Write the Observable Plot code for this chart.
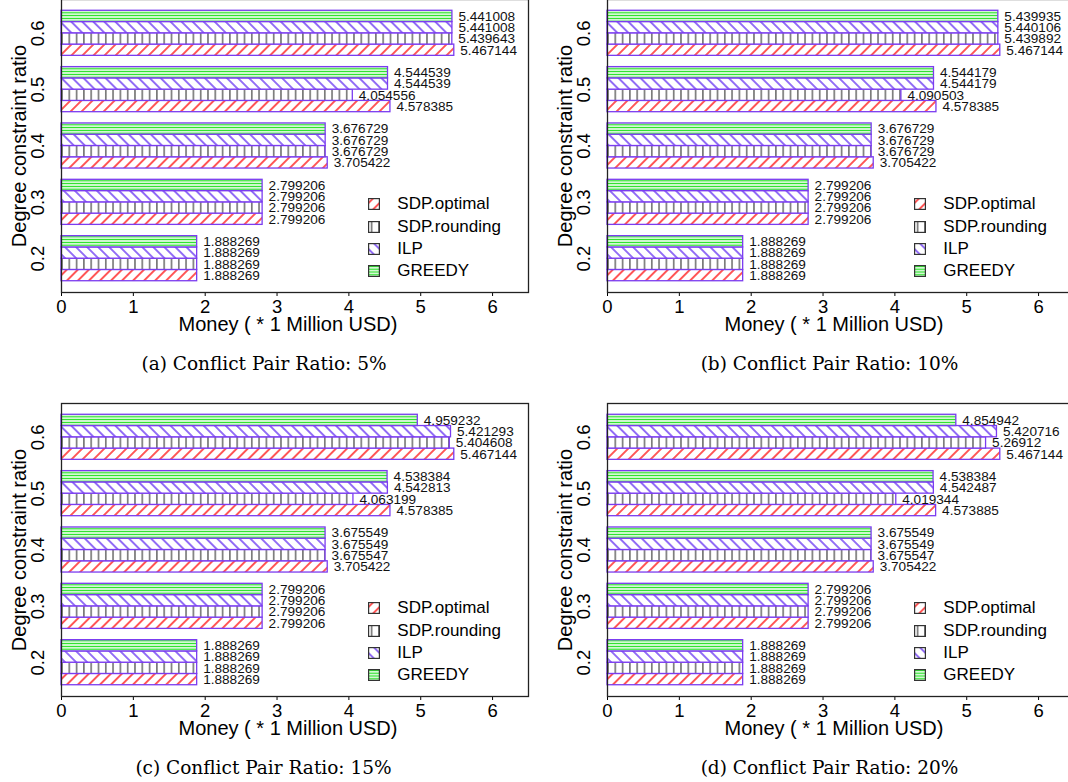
<!DOCTYPE html>
<html>
<head>
<meta charset="utf-8">
<script src="https://cdn.jsdelivr.net/npm/d3@7"></script>
<script src="https://cdn.jsdelivr.net/npm/@observablehq/plot@0.6"></script>
<style>
  html, body { margin: 0; padding: 0; }
  body { width: 1068px; height: 782px; overflow: hidden; background: #fff; position: relative;
         font-family: "Liberation Sans", Arial, sans-serif; }
  .panel { position: absolute; width: 534px; }
  .panel svg { max-width: none !important; display: block; }
  .panel svg, .panel svg g, .panel svg text { font-family: "Liberation Sans", Arial, sans-serif !important; }
  .legend { position: absolute; font-size: 17px; color: #000; }
  .legend .row { height: 22.3px; display: flex; align-items: center; white-space: nowrap; }
  .legend .row svg { flex: none; }
  .legend .row span { margin-left: 17.3px; }
  .caption { position: absolute; font-family: "DejaVu Serif", serif; font-size: 18.5px; color: #000;
             transform: translate(-50%, -50%); white-space: nowrap; }
</style>
</head>
<body>
<svg width="0" height="0" style="position:absolute">
  <defs>
    <pattern id="p-opt" patternUnits="userSpaceOnUse" width="7.8" height="7.8" patternTransform="rotate(45)">
      <rect width="7.8" height="7.8" fill="#fff"/>
      <line x1="3.9" y1="0" x2="3.9" y2="7.8" stroke="#ff0000" stroke-width="1.3"/>
    </pattern>
    <pattern id="p-rnd" patternUnits="userSpaceOnUse" width="7.3" height="10">
      <rect width="7.3" height="10" fill="#fff"/>
      <line x1="3.6" y1="0" x2="3.6" y2="10" stroke="#444" stroke-width="1.2"/>
    </pattern>
    <pattern id="p-ilp" patternUnits="userSpaceOnUse" width="7.8" height="7.8" patternTransform="rotate(-45)">
      <rect width="7.8" height="7.8" fill="#fff"/>
      <line x1="3.9" y1="0" x2="3.9" y2="7.8" stroke="#5a22f0" stroke-width="1.3"/>
    </pattern>
    <pattern id="p-grd" patternUnits="userSpaceOnUse" width="10" height="2.8">
      <rect width="10" height="2.8" fill="#fff"/>
      <line x1="0" y1="1.4" x2="10" y2="1.4" stroke="#1ee01e" stroke-width="1.3"/>
    </pattern>
  </defs>
</svg>
<script>
// ---- data ----
const series = ["SDP.optimal", "SDP.rounding", "ILP", "GREEDY"];
const ratios = ["0.2", "0.3", "0.4", "0.5", "0.6"];
const xTicks = [0, 1, 2, 3, 4, 5, 6];
const xTitle = "Money ( * 1 Million USD)";
const yTitle = "Degree constraint ratio";
const captions = ["(a) Conflict Pair Ratio: 5%", "(b) Conflict Pair Ratio: 10%",
                  "(c) Conflict Pair Ratio: 15%", "(d) Conflict Pair Ratio: 20%"];

// values per series, ordered by ratios 0.2 .. 0.6
const sdpOptimalA  = [1.888269, 2.799206, 3.705422, 4.578385, 5.467144];
const sdpRoundingA = [1.888269, 2.799206, 3.676729, 4.054556, 5.439643];
const ilpA         = [1.888269, 2.799206, 3.676729, 4.544539, 5.441008];
const greedyA      = [1.888269, 2.799206, 3.676729, 4.544539, 5.441008];

const sdpOptimalB  = [1.888269, 2.799206, 3.705422, 4.578385, 5.467144];
const sdpRoundingB = [1.888269, 2.799206, 3.676729, 4.090503, 5.439892];
const ilpB         = [1.888269, 2.799206, 3.676729, 4.544179, 5.440106];
const greedyB      = [1.888269, 2.799206, 3.676729, 4.544179, 5.439935];

const sdpOptimalC  = [1.888269, 2.799206, 3.705422, 4.578385, 5.467144];
const sdpRoundingC = [1.888269, 2.799206, 3.675547, 4.063199, 5.404608];
const ilpC         = [1.888269, 2.799206, 3.675549, 4.542813, 5.421293];
const greedyC      = [1.888269, 2.799206, 3.675549, 4.538384, 4.959232];

const sdpOptimalD  = [1.888269, 2.799206, 3.705422, 4.573885, 5.467144];
const sdpRoundingD = [1.888269, 2.799206, 3.675547, 4.019344, 5.26912];
const ilpD         = [1.888269, 2.799206, 3.675549, 4.542487, 5.420716];
const greedyD      = [1.888269, 2.799206, 3.675549, 4.538384, 4.854942];

// ---- styling ----
const patternFills = ["url(#p-opt)", "url(#p-rnd)", "url(#p-ilp)", "url(#p-grd)"];
const barStroke = "#7b3cf0";
const sans = "Liberation Sans, Arial, sans-serif";

function makePanel(vals, left, top, capX, capY, caption) {
  const rows = [];
  ratios.forEach((r, gi) => series.forEach((s, si) => rows.push({
    ratio: r, series: s, value: vals[si][gi], y1: gi * 5 + si, y2: gi * 5 + si + 1
  })));
  const marks = [];
  series.forEach((s, si) => marks.push(Plot.rect(rows.filter(d => d.series === s), {
    x1: () => 0, x2: "value", y1: "y1", y2: "y2",
    fill: patternFills[si], stroke: barStroke, strokeWidth: 1.3
  })));
  marks.push(Plot.text(rows, {
    x: "value", y: d => d.y1 + 0.5, text: d => String(d.value),
    textAnchor: "start", dx: 6, fontSize: 13.6, fontFamily: sans, fill: "#111"
  }));
  marks.push(Plot.text(ratios, {
    y: (d, i) => i * 5 + 2, text: d => d, frameAnchor: "left", rotate: -90,
    textAnchor: "middle", lineAnchor: "bottom", dx: -17.3, fontSize: 18.5, fontFamily: sans, fill: "#000"
  }));
  marks.push(Plot.text([yTitle], {
    text: d => d, frameAnchor: "left", rotate: -90, textAnchor: "middle", lineAnchor: "bottom",
    dx: -36, fontSize: 20, fontFamily: sans, fill: "#000"
  }));
  marks.push(Plot.text([xTitle], {
    text: d => d, frameAnchor: "bottom", textAnchor: "middle", lineAnchor: "bottom",
    dy: 38.7, dx: -7, fontSize: 20, fontFamily: sans, fill: "#000"
  }));
  marks.push(Plot.frame({stroke: "#222", strokeWidth: 1.3}));

  const chart = Plot.plot({
    width: 534, height: 10 + 293 + 60,
    marginLeft: 61, marginRight: 6, marginTop: 10, marginBottom: 60,
    style: {fontFamily: sans, fontSize: "18.5px", color: "#000", background: "#fff"},
    x: {domain: [0, 6.5], ticks: xTicks, tickFormat: d => String(d), tickSize: 4, tickPadding: 3, label: null},
    y: {domain: [-1, 25], axis: null},
    marks
  });
  const wrap = document.createElement("div");
  wrap.className = "panel";
  wrap.style.left = left + "px";
  wrap.style.top = top + "px";
  wrap.appendChild(chart);

  // legend (top to bottom in series order)
  const leg = document.createElement("div");
  leg.className = "legend";
  leg.style.left = "368px";
  leg.style.top = "204.2px";
  series.forEach((s, si) => {
    const row = document.createElement("div");
    row.className = "row";
    row.innerHTML = `<svg width="12" height="12"><rect x="0.6" y="0.6" width="10.8" height="10.8" fill="${patternFills[si]}" stroke="#333" stroke-width="1.2"/></svg><span>${s}</span>`;
    leg.appendChild(row);
  });
  wrap.appendChild(leg);
  document.body.appendChild(wrap);

  const cap = document.createElement("div");
  cap.className = "caption";
  cap.style.left = capX + "px";
  cap.style.top = capY + "px";
  cap.textContent = caption;
  document.body.appendChild(cap);
}

makePanel([sdpOptimalA, sdpRoundingA, ilpA, greedyA], 0, -11, 264, 362.7, captions[0]);
makePanel([sdpOptimalB, sdpRoundingB, ilpB, greedyB], 546, -11, 829.5, 362.7, captions[1]);
makePanel([sdpOptimalC, sdpRoundingC, ilpC, greedyC], 0, 393, 263.5, 766.7, captions[2]);
makePanel([sdpOptimalD, sdpRoundingD, ilpD, greedyD], 546, 393, 829.5, 766.7, captions[3]);
</script>
</body>
</html>
